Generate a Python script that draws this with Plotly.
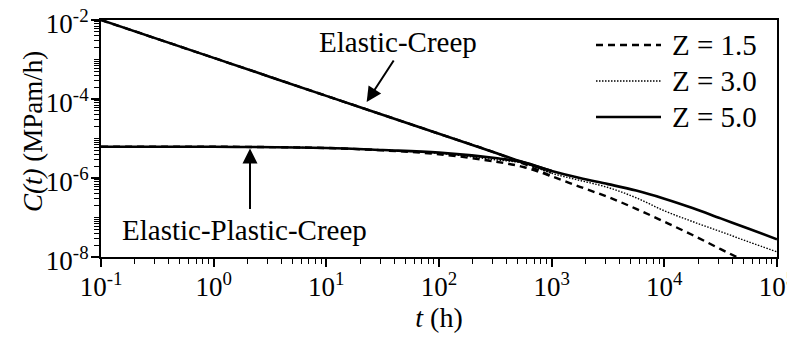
import plotly.graph_objects as go

# ---- data (t in h, C(t) in MPa m/h) ----
z_labels = ["Z = 1.5", "Z = 3.0", "Z = 5.0"]

# Elastic-Creep: common straight part, then per-Z values at merge
t_ec = [0.1, 1, 10, 100, 316.2, 562.3, 1000]
c_ec_z15 = [1.0e-2, 1.1e-3, 1.2e-4, 1.32e-5, 4.37e-6, 2.3e-6, 1.10e-6]
c_ec_z30 = [1.0e-2, 1.1e-3, 1.2e-4, 1.32e-5, 4.37e-6, 2.45e-6, 1.32e-6]
c_ec_z50 = [1.0e-2, 1.1e-3, 1.2e-4, 1.32e-5, 4.37e-6, 2.5e-6, 1.51e-6]

# Elastic-Plastic-Creep: flat start then long-time tail shared with Elastic-Creep
t_epc = [0.1, 1, 10, 31.62, 100, 316.2, 562.3, 1000, 1778, 3162, 5623,
         1e4, 1.778e4, 3.162e4, 5.623e4, 1e5]
c_epc_z15 = [6.2e-6, 6.2e-6, 5.75e-6, 5.0e-6, 4.0e-6, 2.6e-6, 1.9e-6, 1.10e-6,
             6.0e-7, 3.3e-7, 1.66e-7, 7.8e-8, 3.6e-8, 1.58e-8, 7.1e-9, 3.2e-9]
c_epc_z30 = [6.2e-6, 6.2e-6, 5.75e-6, 5.1e-6, 4.2e-6, 2.9e-6, 2.35e-6, 1.32e-6,
             8.7e-7, 5.75e-7, 3.16e-7, 1.48e-7, 7.9e-8, 4.4e-8, 2.4e-8, 1.35e-8]
c_epc_z50 = [6.2e-6, 6.2e-6, 5.75e-6, 5.1e-6, 4.4e-6, 3.2e-6, 2.5e-6, 1.51e-6,
             1.0e-6, 7.0e-7, 4.8e-7, 3.0e-7, 1.74e-7, 9.5e-8, 5.2e-8, 2.8e-8]

x_tickvals = [1e-1, 1e0, 1e1, 1e2, 1e3, 1e4, 1e5]
x_ticktext = ["10<sup>-1</sup>", "10<sup>0</sup>", "10<sup>1</sup>", "10<sup>2</sup>",
              "10<sup>3</sup>", "10<sup>4</sup>", "10<sup>5</sup>"]
y_tickvals = [1e-8, 1e-6, 1e-4, 1e-2]
y_ticktext = ["10<sup>-8</sup>", "10<sup>-6</sup>", "10<sup>-4</sup>", "10<sup>-2</sup>"]

FONT = "Liberation Serif"
OFF = 8                      # page body margin offset of the plot div
FW, FH = 795 - OFF, 337 - OFF
L, R, T, B = 101 - OFF, 18, 20 - OFF, 80
W, H = FW - L - R, FH - T - B


def px_x(x):
    return (x - OFF - L) / W


def px_y(y):
    return 1 - (y - OFF - T) / H


styles = [
    dict(color="black", width=2.4, dash="7px,5px"),
    dict(color="black", width=1.4, dash="1.5px,1.5px"),
    dict(color="black", width=2.6, dash="solid"),
]
ec_sets = [c_ec_z15, c_ec_z30, c_ec_z50]
epc_sets = [c_epc_z15, c_epc_z30, c_epc_z50]

fig = go.Figure()
for name, st, cec, cepc in zip(z_labels, styles, ec_sets, epc_sets):
    fig.add_trace(go.Scatter(x=t_ec, y=cec, mode="lines", line=dict(shape="spline", **st),
                             name=name, legendgroup=name, showlegend=False))
    fig.add_trace(go.Scatter(x=t_epc, y=cepc, mode="lines", line=dict(shape="spline", **st),
                             name=name, legendgroup=name, showlegend=False))

minor_x = [m * 10.0 ** k for k in range(-1, 5) for m in range(2, 10)]
minor_y = [m * 10.0 ** k for k in range(-8, -2) for m in range(1, 10)
           if not (m == 1 and k % 2 == 0)]

fig.update_xaxes(type="log", range=[-1, 5], tickmode="array", tickvals=x_tickvals,
                 ticktext=x_ticktext, ticks="outside", ticklen=8, tickwidth=1.5,
                 tickcolor="black", showline=True, linecolor="black", linewidth=2,
                 mirror=True, showgrid=False, zeroline=False, automargin=False,
                 ticklabeloverflow="allow", ticklabelstandoff=-3,
                 tickfont=dict(family=FONT, size=27, color="black"),
                 minor=dict(tickmode="array", tickvals=minor_x, ticks="outside",
                            ticklen=5, tickwidth=1.2, tickcolor="black", showgrid=False),
                 title=dict(text="<i>t</i> (h)", font=dict(family=FONT, size=28, color="black"),
                            standoff=0))
fig.update_yaxes(type="log", range=[-8, -2], tickmode="array", tickvals=y_tickvals,
                 ticktext=y_ticktext, ticks="outside", ticklen=8, tickwidth=1.5,
                 tickcolor="black", showline=True, linecolor="black", linewidth=2,
                 mirror=True, showgrid=False, zeroline=False, automargin=False,
                 ticklabeloverflow="allow", ticklabelstandoff=-3, ticklabelshift=4,
                 tickfont=dict(family=FONT, size=27, color="black"),
                 minor=dict(tickmode="array", tickvals=minor_y, ticks="outside",
                            ticklen=5, tickwidth=1.2, tickcolor="black", showgrid=False))

# y-axis title
fig.add_annotation(x=px_x(33), y=px_y(132), xref="paper", yref="paper",
                   text="<i>C</i><i>(t)</i> (MPam/h)", textangle=-90,
                   xanchor="center", yanchor="middle", showarrow=False,
                   font=dict(family=FONT, size=27, color="black"))

# arrows (tips in log10 data coordinates)
fig.add_annotation(x=1.358, y=-4.077, xref="x", yref="y", text="", showarrow=True,
                   arrowhead=2, arrowsize=1.5, arrowwidth=2, arrowcolor="black",
                   ax=28, ay=-43)
fig.add_annotation(x=0.3225, y=-5.254, xref="x", yref="y", text="", showarrow=True,
                   arrowhead=2, arrowsize=1.5, arrowwidth=2, arrowcolor="black",
                   ax=0, ay=62)
fig.add_annotation(x=px_x(398), y=px_y(42), xref="paper", yref="paper", text="Elastic-Creep",
                   xanchor="center", yanchor="middle", showarrow=False,
                   font=dict(family=FONT, size=29, color="black"))
fig.add_annotation(x=px_x(244), y=px_y(230), xref="paper", yref="paper",
                   text="Elastic-Plastic-Creep", xanchor="center", yanchor="middle",
                   showarrow=False, font=dict(family=FONT, size=29, color="black"))

# legend (key samples + labels)
legend_rows = [45, 81, 117]
for name, st, yrow in zip(z_labels, styles, legend_rows):
    fig.add_shape(type="line", xref="paper", yref="paper", x0=px_x(596), x1=px_x(661),
                  y0=px_y(yrow), y1=px_y(yrow),
                  line=dict(color=st["color"], width=st["width"], dash=st["dash"]))
    fig.add_annotation(x=px_x(670), y=px_y(yrow), xref="paper", yref="paper", text=name,
                       xanchor="left", yanchor="middle", showarrow=False,
                       font=dict(family=FONT, size=29, color="black"))

fig.update_layout(
    width=FW, height=FH, margin=dict(l=L, r=R, t=T, b=B, autoexpand=False),
    paper_bgcolor="white", plot_bgcolor="white", showlegend=False,
    font=dict(family=FONT, color="black"),
)

fig.write_html("out.html")
